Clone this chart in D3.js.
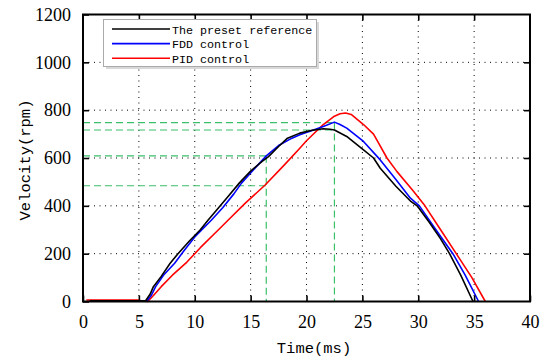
<!DOCTYPE html>
<html><head><meta charset="utf-8">
<script src="https://cdn.jsdelivr.net/npm/d3@7"></script>
<style>body{margin:0;background:#fff}svg{display:block}</style>
</head><body>
<svg id="c" width="544" height="358"></svg>
<script>
const xTicks = [0,5,10,15,20,25,30,35,40];
const yTicks = [0,200,400,600,800,1000,1200];
const seriesNames = ["The preset reference","FDD control","PID control"];
const seriesColors = ["#000000","#0000ff","#ff0000"];

const refT = [0.6,5.6,6.0,6.3,7.0,7.8,8.5,9.5,10.5,11.2,12.0,13.0,14.0,15.0,16.0,16.6,17.5,18.3,19.4,20.5,21.5,22.1,22.5,23.6,25.1,26.0,26.6,28.0,29.3,29.9,31.0,32.0,32.8,33.8,34.9];
const refV = [3,3,30,62,105,160,200,252,300,341,385,440,496,545,585,606,648,683,704,716,722,720,717,690,634,600,557,482,420,400,330,262,200,110,0];

const fddT = [0.6,5.7,6.1,6.5,7.2,8.2,9.0,10.0,11.5,12.5,13.5,14.2,15.2,16.4,17.5,18.7,19.4,20.5,21.5,22.5,23.0,23.6,25.1,26.6,28.0,29.3,30.1,31.5,33.1,34.2,35.4];
const fddV = [1,1,25,62,110,160,210,270,341,392,450,496,548,609,652,683,697,715,732,750,740,725,669,592,510,432,400,305,200,110,0];

const pidT = [0.3,4.9,5.3,5.8,6.3,7.0,8.0,9.3,10.5,12.1,13.0,14.5,16.3,18.0,19.4,20.0,21.5,22.5,23.0,23.5,24.0,25.1,26.0,27.2,28.1,29.5,30.6,32.0,33.4,34.8,36.0];
const pidV = [6,6,2,0,25,62,110,165,225,299,341,410,487,570,641,672,740,775,785,788,782,740,700,600,543,465,400,300,200,100,0];

const greenH = [748,717,609,484];
const greenHEnd = [22.5,22.5,16.4,16.4];
const greenVX = [22.5,16.4];
const greenVTop = [748,609];

const SERIF = "'Liberation Serif', 'DejaVu Serif', serif";
const MONO = "'Liberation Mono', 'DejaVu Sans Mono', monospace";

const svg = d3.select("#c");
const x = d3.scaleLinear().domain([0,40]).range([83,530]);
const y = d3.scaleLinear().domain([0,1200]).range([301.5,14.5]);

// grid
const grid = svg.append("g").attr("stroke","#000").attr("stroke-width",1).attr("stroke-dasharray","1,4.5");
grid.selectAll(".gx").data(xTicks.slice(1,-1)).join("line")
  .attr("x1",d=>x(d)).attr("x2",d=>x(d)).attr("y1",y(0)).attr("y2",y(1200));
grid.selectAll(".gy").data(yTicks.slice(1,-1)).join("line")
  .attr("y1",d=>y(d)).attr("y2",d=>y(d)).attr("x1",x(0)).attr("x2",x(40));

// green dashed reference lines
const gg = svg.append("g").attr("stroke","#3cbf6a").attr("stroke-width",1.2).attr("stroke-dasharray","7,4").attr("fill","none");
gg.selectAll(".h").data(greenH).join("line")
  .attr("x1",x(0)).attr("x2",(d,i)=>x(greenHEnd[i])).attr("y1",d=>y(d)).attr("y2",d=>y(d));
gg.selectAll(".v").data(greenVX).join("line")
  .attr("x1",d=>x(d)).attr("x2",d=>x(d)).attr("y1",(d,i)=>y(greenVTop[i])).attr("y2",y(0));

// curves
const line = d3.line().x(d=>x(d[0])).y(d=>y(d[1]));
const data = [d3.zip(refT,refV), d3.zip(fddT,fddV), d3.zip(pidT,pidV)];
[2,1,0].forEach(i=>{
  svg.append("path").datum(data[i]).attr("d",line).attr("fill","none")
    .attr("stroke",seriesColors[i]).attr("stroke-width",1.6).attr("stroke-linejoin","round");
});

// axes frame and ticks
const ax = svg.append("g");
ax.append("g").attr("transform",`translate(0,${y(0)})`)
  .call(d3.axisBottom(x).tickValues(xTicks).tickSizeInner(-6).tickSizeOuter(0).tickPadding(14).tickFormat(d3.format("d")))
  .call(g=>g.select(".domain").remove());
ax.append("g").attr("transform",`translate(0,${y(1200)})`)
  .call(d3.axisTop(x).tickValues(xTicks.slice(1,-1)).tickSizeInner(-6).tickSizeOuter(0).tickFormat(""))
  .call(g=>g.select(".domain").remove());
ax.append("g").attr("transform",`translate(${x(0)},0)`)
  .call(d3.axisLeft(y).tickValues(yTicks).tickSizeInner(-6).tickSizeOuter(0).tickPadding(12).tickFormat(d3.format("d")))
  .call(g=>g.select(".domain").remove());
ax.append("g").attr("transform",`translate(${x(40)},0)`)
  .call(d3.axisRight(y).tickValues(yTicks.slice(1,-1)).tickSizeInner(-6).tickSizeOuter(0).tickFormat(""))
  .call(g=>g.select(".domain").remove());
ax.selectAll(".tick line").attr("stroke","#000").attr("stroke-width",1.6);
ax.selectAll(".tick text").attr("fill","#000")
  .style("font-family",SERIF).style("font-size","18px");
svg.append("rect").attr("x",x(0)).attr("y",y(1200)).attr("width",x(40)-x(0)).attr("height",y(0)-y(1200))
  .attr("fill","none").attr("stroke","#000").attr("stroke-width",2);

// legend
const lg = svg.append("g");
lg.append("rect").attr("x",106).attr("y",22).attr("width",213).attr("height",47).attr("fill","#d8d8d8");
lg.append("rect").attr("x",103.5).attr("y",19.5).attr("width",213).attr("height",47).attr("fill","#fff").attr("stroke","#aaa").attr("stroke-width",1);
seriesNames.forEach((n,i)=>{
  const yy = 29 + i*14.6;
  lg.append("line").attr("x1",112).attr("x2",170).attr("y1",yy).attr("y2",yy).attr("stroke",seriesColors[i]).attr("stroke-width",1.6);
  lg.append("text").attr("x",172).attr("y",yy+4.5).text(n)
    .style("font-family",MONO).style("font-size","11.7px").attr("fill","#000");
});

// axis labels
svg.append("text").attr("x",314).attr("y",353).attr("text-anchor","middle")
  .style("font-family",MONO).style("font-size","15.5px").text("Time(ms)");
svg.append("text").attr("transform","translate(30,160) rotate(-90)").attr("text-anchor","middle")
  .style("font-family",MONO).style("font-size","15.5px").text("Velocity(rpm)");
</script>
</body></html>
